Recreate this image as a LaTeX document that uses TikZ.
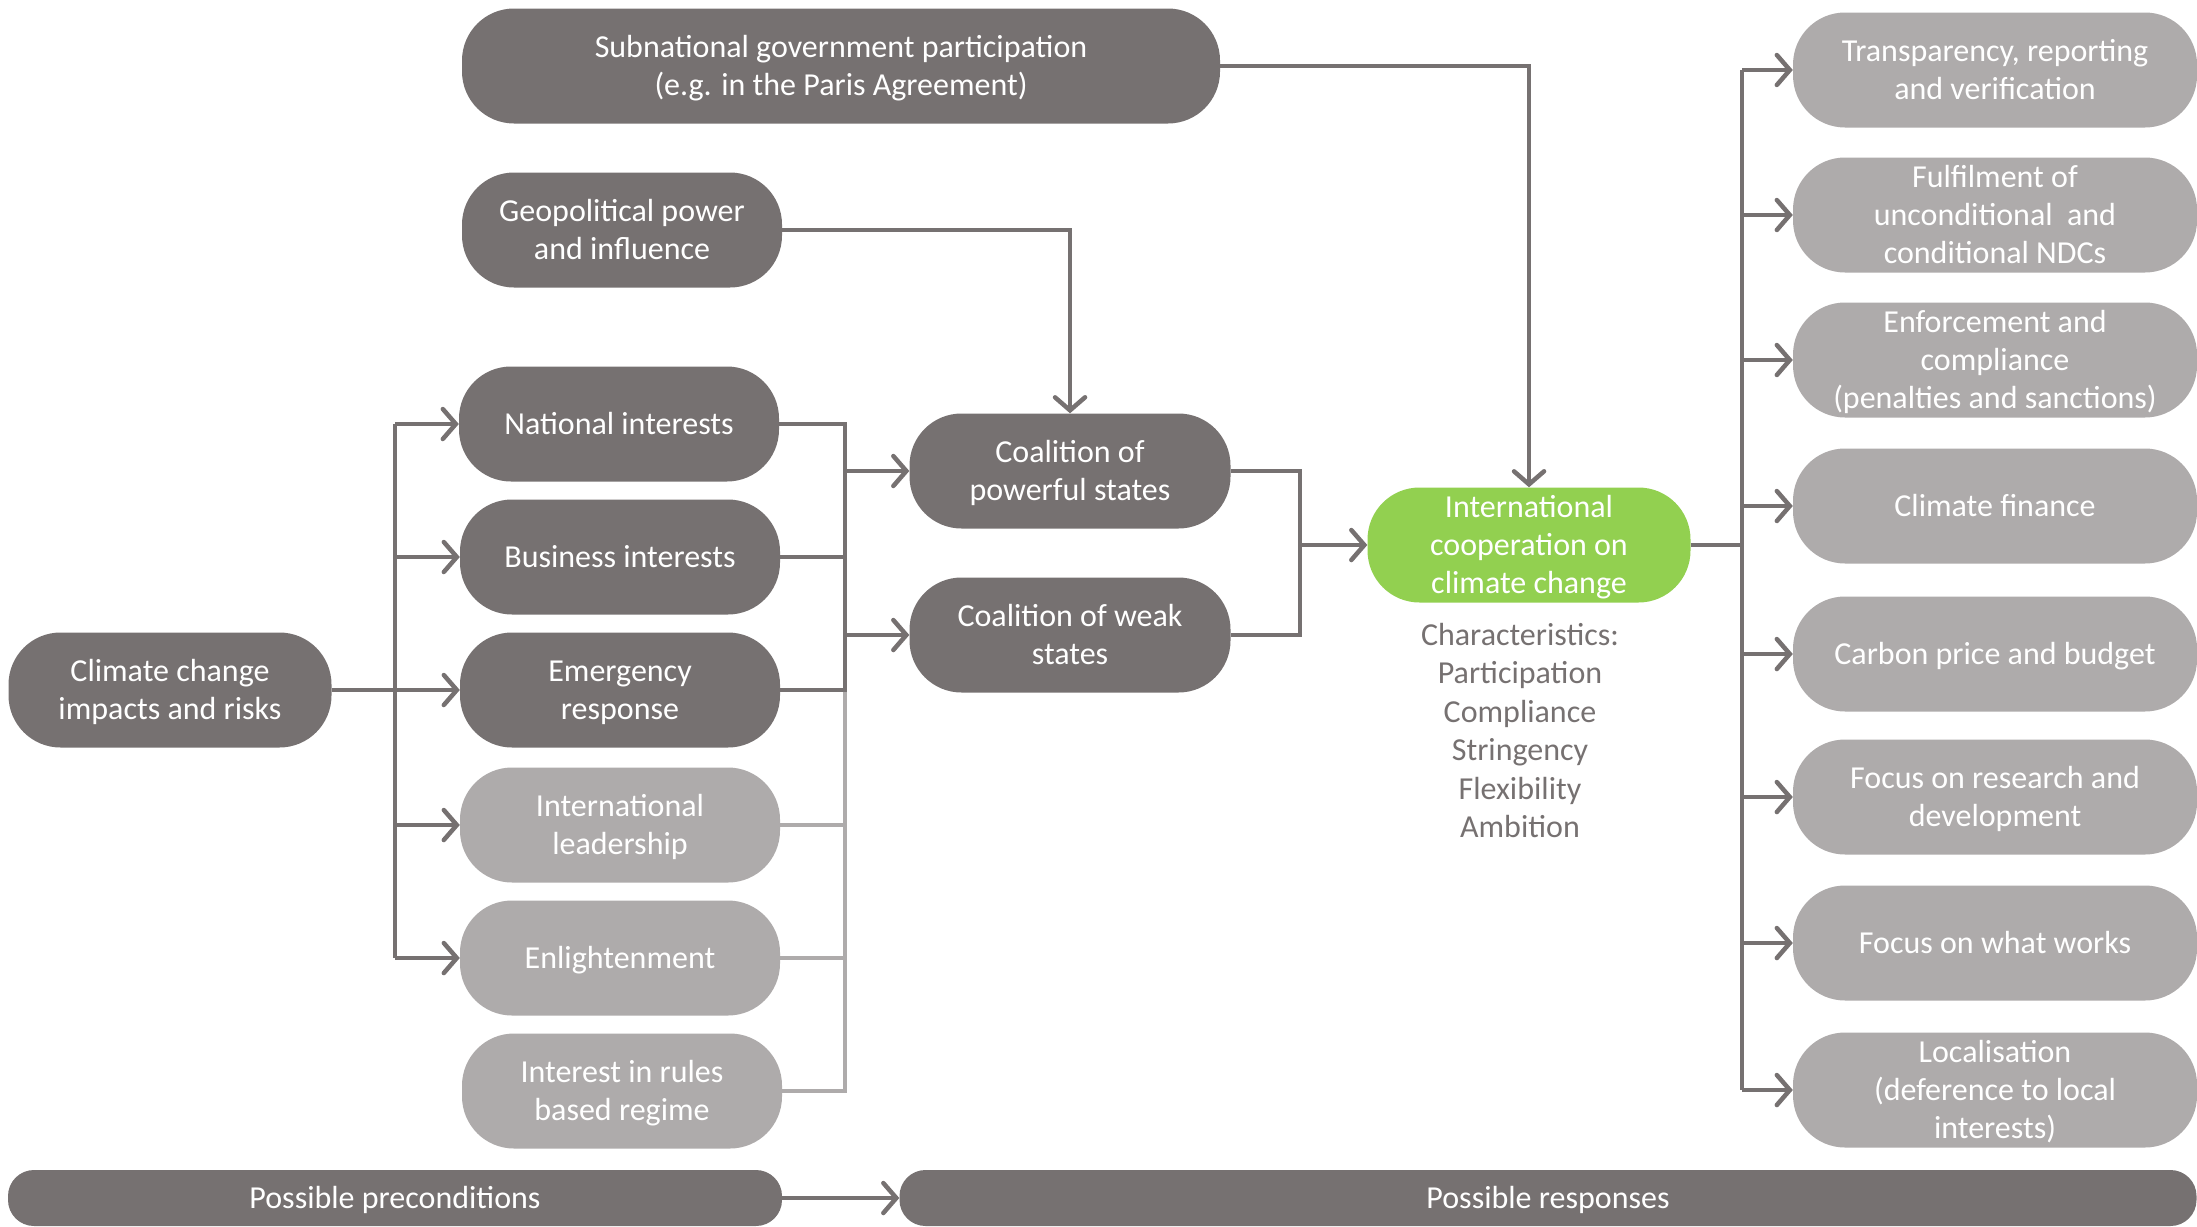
\documentclass[tikz,border=0pt]{standalone}
\usepackage{fontspec}
\setmainfont{Carlito}
\usetikzlibrary{arrows.meta}
\definecolor{darkbox}{HTML}{767171}
\definecolor{lightbox}{HTML}{AEABAB}
\definecolor{greenbox}{HTML}{92D050}
% centred stack of lines with even strut spacing, set a little low in its box
\newcommand\lines[1]{\raisebox{0pt}[\height][\dimexpr\depth-6pt\relax]{\begin{tabular}{@{}c@{}}#1\end{tabular}}}
\begin{document}
\begin{tikzpicture}[x=1pt,y=-1pt,
  pill/.style={rounded corners=52pt, minimum height=115pt, inner sep=0pt,
    text=white, font=\fontsize{32}{38}\selectfont},
  darkpill/.style={pill, fill=darkbox},
  lightpill/.style={pill, fill=lightbox},
  greenpill/.style={pill, fill=greenbox},
  leftbox/.style={minimum width=320pt},
  rightbox/.style={lightpill, minimum width=404pt},
  bar/.style={fill=darkbox, rounded corners=26pt, minimum height=56pt, inner sep=0pt,
    text=white, font=\fontsize{32}{38}\selectfont},
  link/.style={draw=darkbox, line width=4.5pt},
  lightlink/.style={draw=lightbox, line width=4.5pt},
  arr/.style={link, -{Straight Barb[length=13pt, width=30pt, line width=4.5pt, line cap=round]}},
]
\useasboundingbox (0,0) rectangle (2197,1226);

% preconditions
\node[darkpill, minimum width=758pt] (sub) at (841,66)
  {\lines{Subnational government participation\\(e.g. in the Paris Agreement)}};
\node[darkpill, leftbox] (geo) at (622,230) {\lines{Geopolitical power\\and influence}};
\node[darkpill, minimum width=323pt] (cc) at (170,690) {\lines{Climate change\\impacts and risks}};

\node[darkpill, leftbox] (nat) at (619,424) {\lines{National interests}};
\node[darkpill, leftbox] (bus) at (620,557) {\lines{Business interests}};
\node[darkpill, leftbox] (emg) at (620,690) {\lines{Emergency\\response}};
\node[lightpill, leftbox] (lead) at (620,825) {\lines{International\\leadership}};
\node[lightpill, leftbox] (enl) at (620,958) {\lines{Enlightenment}};
\node[lightpill, leftbox] (rules) at (622,1091) {\lines{Interest in rules\\based regime}};

% coalitions
\node[darkpill, minimum width=321pt] (cpow) at (1070,471) {\lines{Coalition of\\powerful states}};
\node[darkpill, minimum width=321pt] (cweak) at (1070,635) {\lines{Coalition of weak\\states}};

% central outcome
\node[greenpill, minimum width=323pt] (intl) at (1529,545)
  {\lines{International\\cooperation on\\climate change}};
\node[text=darkbox, font=\fontsize{32}{38.5}\selectfont, inner sep=0pt] (chars) at (1520,731)
  {\lines{Characteristics:\\Participation\\Compliance\\Stringency\\Flexibility\\Ambition}};

% responses
\node[rightbox] (r1) at (1995,70) {\lines{Transparency, reporting\\and verification}};
\node[rightbox] (r2) at (1995,215) {\lines{Fulfilment of\\unconditional\ \ and\\conditional NDCs}};
\node[rightbox] (r3) at (1995,360) {\lines{Enforcement and\\compliance\\(penalties and sanctions)}};
\node[rightbox] (r4) at (1995,506) {\lines{Climate finance}};
\node[rightbox] (r5) at (1995,654) {\lines{Carbon price and budget}};
\node[rightbox] (r6) at (1995,797) {\lines{Focus on research and\\development}};
\node[rightbox] (r7) at (1995,943) {\lines{Focus on what works}};
\node[rightbox] (r8) at (1995,1090) {\lines{Localisation\\(deference to local\\interests)}};

% legend bars
\node[bar, minimum width=774pt] (pre) at (395,1198) {\lines{Possible preconditions}};
\node[bar, minimum width=1297pt] (resp) at (1548,1198) {\lines{Possible responses}};

% bus lines
\coordinate (lb) at (395,0);
\coordinate (cb) at (845,0);
\coordinate (mb) at (1300,0);
\coordinate (rb) at (1742,0);

% top inputs
\draw[arr] (sub.east) -| (intl.north);
\draw[arr] (geo.east) -| (cpow.north);

% climate change fans out to the drivers
\draw[link] (cc.east) -- (emg.west -| lb);
\draw[link] (nat.west -| lb) -- (enl.west -| lb);
\foreach \n in {nat,bus,emg,lead,enl}
  \draw[arr] (\n.west -| lb) -- (\n.west);

% drivers collect into the coalitions
\draw[lightlink] (emg.east -| cb) -- (rules.east -| cb) -- (rules.east);
\draw[lightlink] (lead.east) -- (lead.east -| cb);
\draw[lightlink] (enl.east) -- (enl.east -| cb);
\draw[link] (nat.east) -- (nat.east -| cb) -- (emg.east -| cb) -- (emg.east);
\draw[link] (bus.east) -- (bus.east -| cb);
\draw[arr] (cpow.west -| cb) -- (cpow.west);
\draw[arr] (cweak.west -| cb) -- (cweak.west);

% coalitions into cooperation
\draw[link] (cpow.east) -- (cpow.east -| mb) -- (cweak.east -| mb) -- (cweak.east);
\draw[arr] (intl.west -| mb) -- (intl.west);

% cooperation fans out to the responses
\draw[link] (intl.east) -- (intl.east -| rb);
\draw[link] (r1.west -| rb) -- (r8.west -| rb);
\foreach \n in {r1,r2,r3,r4,r5,r6,r7,r8}
  \draw[arr] (\n.west -| rb) -- (\n.west);

% legend arrow
\draw[arr] (pre.east) -- (resp.west);
\end{tikzpicture}
\end{document}
